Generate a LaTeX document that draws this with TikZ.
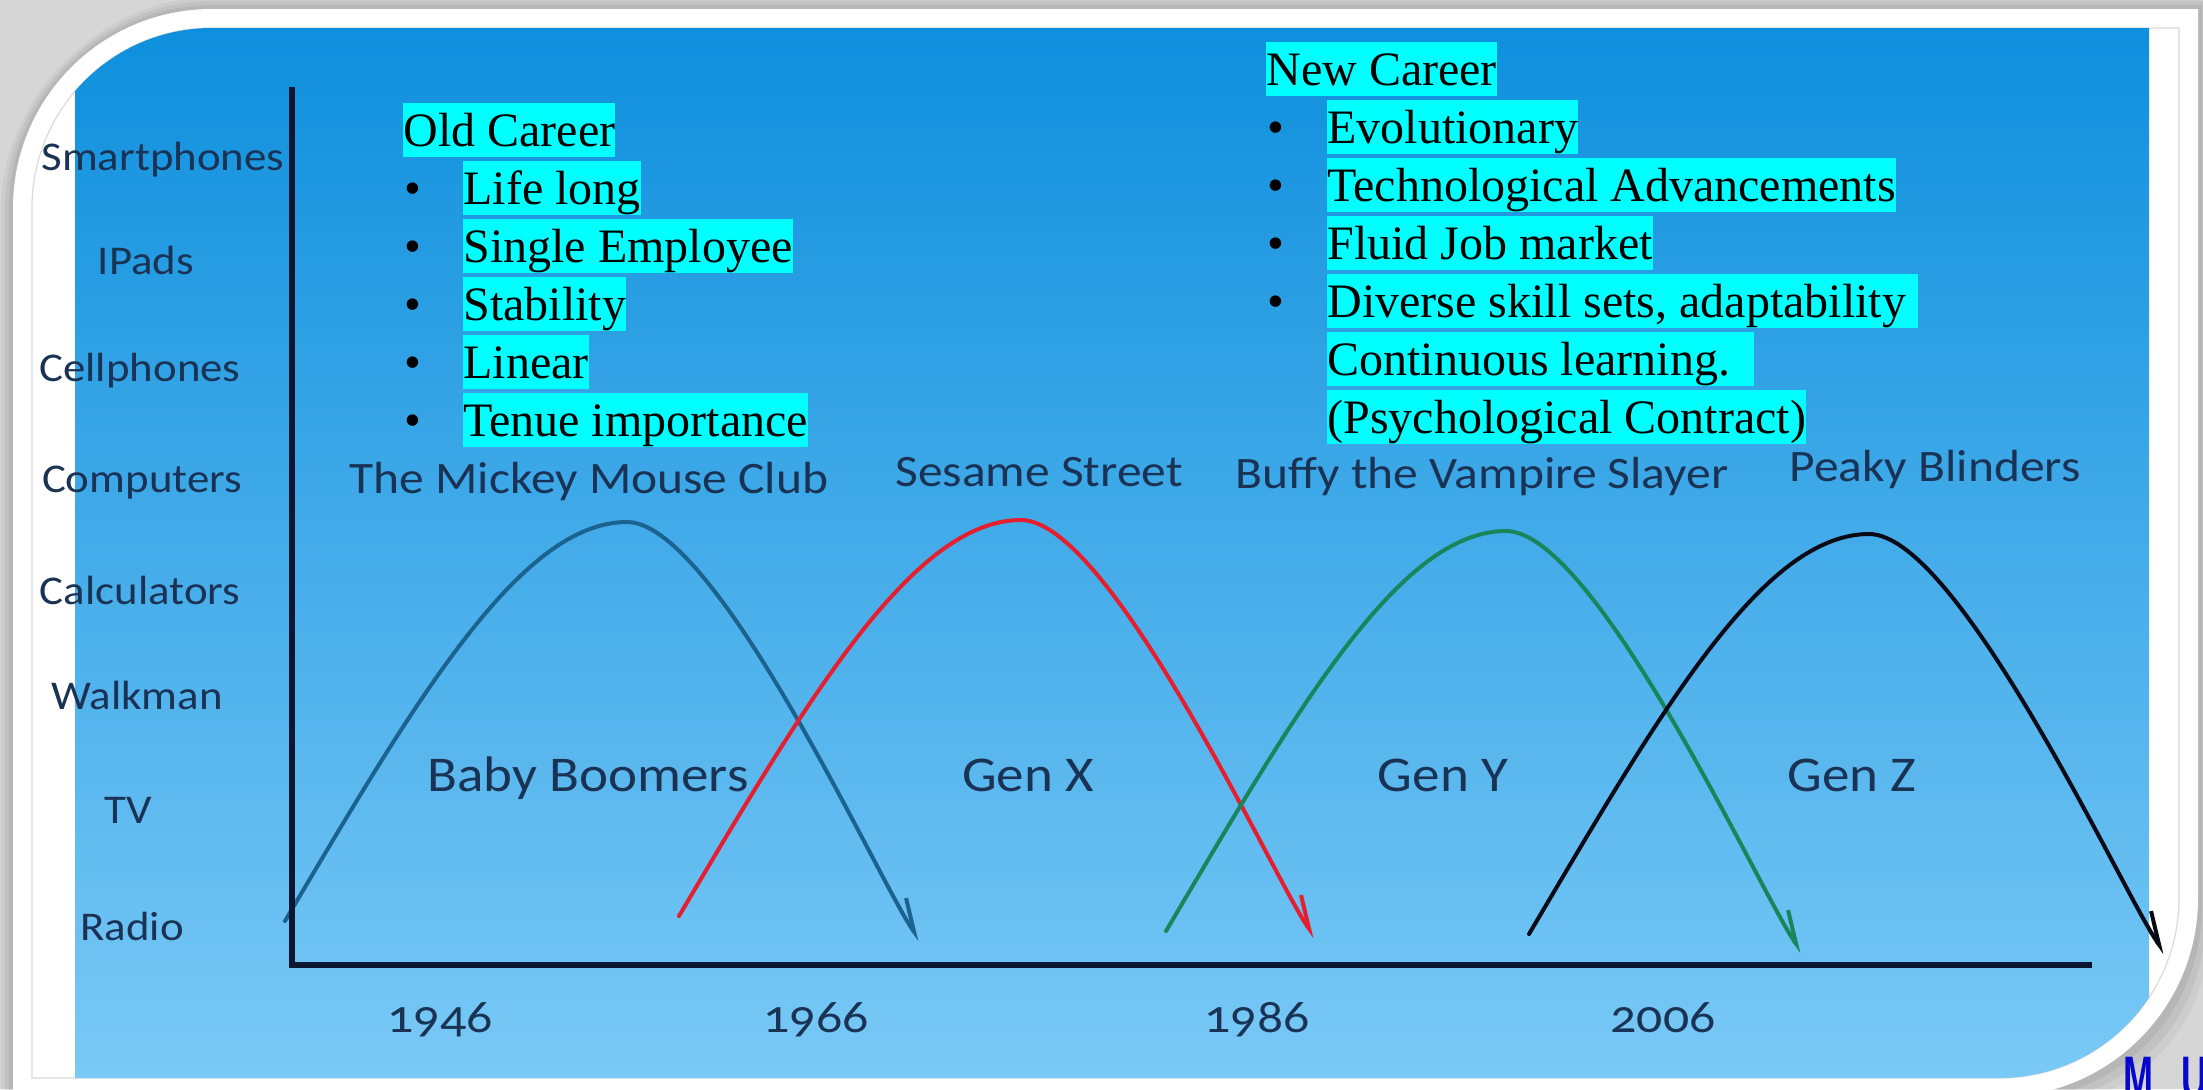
\documentclass[tikz,border=0pt]{standalone}
\usepackage{fontspec}
\setmainfont{Liberation Serif}
\newfontfamily\chartfont{Carlito}[FakeStretch=1.1,Numbers=OldStyle]
\newfontfamily\logofont{Liberation Sans}[FakeStretch=0.6]
\usetikzlibrary{arrows.meta,calc}

\definecolor{pagegray}{RGB}{214,214,214}
\definecolor{edgegray}{RGB}{218,218,218}
\definecolor{bgtop}{RGB}{14,143,221}
\definecolor{bgbot}{RGB}{122,201,246}
\definecolor{hlcyan}{RGB}{0,255,255}
\definecolor{labcol}{RGB}{26,50,84}
\definecolor{axiscol}{RGB}{10,22,50}
\definecolor{cblue}{RGB}{28,98,142}
\definecolor{cred}{RGB}{230,30,45}
\definecolor{cgreen}{RGB}{24,134,90}
\definecolor{cblack}{RGB}{10,10,22}
\definecolor{mublue}{RGB}{8,8,205}

% rectangle (#1,#2)-(#3,#4) with the top-left and bottom-right corners rounded by #5
\newcommand\panelpath[5]{({#1},{#4}) -- ({#1},{#2+#5})
  .. controls ({#1},{#2+0.4477*#5}) and ({#1+0.4477*#5},{#2}) .. ({#1+#5},{#2})
  -- ({#3},{#2}) -- ({#3},{#4-#5})
  .. controls ({#3},{#4-0.4477*#5}) and ({#3-0.4477*#5},{#4}) .. ({#3-#5},{#4})
  -- cycle}

% one generation hump: colour, start, peak, end
\newcommand\genhump[4]{\draw[curve, draw=#1] (#2)
  .. controls ($(#2)+(130,-220)$) and ($(#3)+(-107,0)$) .. (#3)
  .. controls ($(#3)+(90,0)$) and ($(#4)+(-40,-56)$) .. (#4);}

\begin{document}
\begin{tikzpicture}[x=0.5pt,y=-0.5pt,
  hl/.style={fill=hlcyan, inner xsep=0pt, inner ysep=0pt, text height=21.4pt,
    text depth=5.2pt, anchor=west, font=\fontsize{24pt}{29pt}\selectfont},
  bul/.style={hl, fill=none},
  ylab/.style={anchor=base, text=labcol, inner sep=0pt,
    font=\chartfont\fontsize{20.4pt}{24pt}\selectfont},
  tvlab/.style={ylab, font=\chartfont\fontsize{22.5pt}{26pt}\selectfont},
  genlab/.style={ylab, font=\chartfont\fontsize{25pt}{30pt}\selectfont},
  yrlab/.style={ylab, font=\chartfont\fontsize{23.5pt}{28pt}\selectfont},
  curve/.style={line width=2pt, line cap=round, line join=round,
    -{Straight Barb[harpoon, length=16pt, width=13pt]}},
  axis/.style={line width=2.6pt, draw=axiscol, line join=miter}]

\useasboundingbox (0,0) rectangle (2203,1089);

% page and white frame
\fill[pagegray] (0,0) rectangle (2203,1089);
\foreach \d/\o in {12/0.04, 8/0.05, 4/0.06}
  \fill[black, opacity=\o] \panelpath{13-\d}{9-\d}{2198+\d}{1097+\d}{199+\d};
\fill[white] \panelpath{13}{9}{2198}{1097}{199};
\draw[edgegray, line width=0.6pt] \panelpath{32}{28}{2179}{1078}{180};

% blue backdrop
\begin{scope}
  \clip \panelpath{32}{28}{2179}{1078}{180};
  \shade[top color=bgtop, bottom color=bgbot] (75,28) rectangle (2149,1078);
\end{scope}

% logo letters at the lower right
\node[anchor=north west, inner sep=0pt, text=mublue,
  font=\logofont\bfseries\fontsize{30pt}{30pt}\selectfont] (logo) at (2123,1057) {M\hspace{14pt}U};

% device labels on the vertical axis
\node[ylab] (smart) at (163,170) {Smartphones};
\node[ylab] (ipads) at (146,274) {IPads};
\node[ylab] (cell)  at (140,381) {Cellphones};
\node[ylab] (comp)  at (142,492) {Computers};
\node[ylab] (calc)  at (140,604) {Calculators};
\node[ylab] (walk)  at (137,709) {Walkman};
\node[ylab] (tv)    at (128,823) {TV};
\node[ylab] (radio) at (132,940) {Radio};

% years
\node[yrlab] (y46) at (440,1032) {1946};
\node[yrlab] (y66) at (816,1032) {1966};
\node[yrlab] (y86) at (1257,1032) {1986};
\node[yrlab] (y06) at (1663,1032) {2006};

% programmes
\node[tvlab] (mmc) at (589,493) {The Mickey Mouse Club};
\node[tvlab] (ses) at (1039,486) {Sesame Street};
\node[tvlab] (bvs) at (1482,488) {Buffy the Vampire Slayer};
\node[tvlab] (pky) at (1935,481) {Peaky Blinders};

% generations
\node[genlab] (gbb) at (588,791) {Baby Boomers};
\node[genlab] (ggx) at (1028,791) {Gen X};
\node[genlab] (ggy) at (1443,791) {Gen Y};
\node[genlab] (ggz) at (1852,791) {Gen Z};

% axes
\coordinate (ytop) at (292,87);
\coordinate (orig) at (292,965);
\coordinate (xend) at (2092,965);

% generation curves
\coordinate (bbS) at (285,921);  \coordinate (bbP) at (627,522);  \coordinate (bbE) at (920,940);
\coordinate (gxS) at (679,916);  \coordinate (gxP) at (1021,520); \coordinate (gxE) at (1315,937);
\coordinate (gyS) at (1166,931); \coordinate (gyP) at (1506,531); \coordinate (gyE) at (1802,952);
\coordinate (gzS) at (1529,934); \coordinate (gzP) at (1869,534); \coordinate (gzE) at (2165,953);

\genhump{cblue}{bbS}{bbP}{bbE}
\genhump{cred}{gxS}{gxP}{gxE}
\genhump{cgreen}{gyS}{gyP}{gyE}
\genhump{cblack}{gzS}{gzP}{gzE}

\draw[axis] (ytop) -- (orig) -- (xend);

% old career list
\node[hl] (oc) at (403,130) {Old Career};
\node[bul] (ob1) at (404,188) {•}; \node[hl] (oc1) at (463,188) {Life long};
\node[bul] (ob2) at (404,246) {•}; \node[hl] (oc2) at (463,246) {Single Employee};
\node[bul] (ob3) at (404,304) {•}; \node[hl] (oc3) at (463,304) {Stability};
\node[bul] (ob4) at (404,362) {•}; \node[hl] (oc4) at (463,362) {Linear};
\node[bul] (ob5) at (404,420) {•}; \node[hl] (oc5) at (463,420) {Tenue importance};

% new career list
\node[hl] (nc) at (1266,69) {New Career};
\node[bul] (nb1) at (1267,127) {•}; \node[hl] (nc1) at (1327,127) {Evolutionary};
\node[bul] (nb2) at (1267,185) {•}; \node[hl] (nc2) at (1327,185) {Technological Advancements};
\node[bul] (nb3) at (1267,243) {•}; \node[hl] (nc3) at (1327,243) {Fluid Job market};
\node[bul] (nb4) at (1267,301) {•}; \node[hl] (nc4) at (1327,301) {Diverse skill sets, adaptability\hspace*{6pt}};
\node[hl] (nc5) at (1327,359) {Continuous learning.\hspace*{12pt}};
\node[hl] (nc6) at (1327,417) {(Psychological Contract)};

\end{tikzpicture}
\end{document}
